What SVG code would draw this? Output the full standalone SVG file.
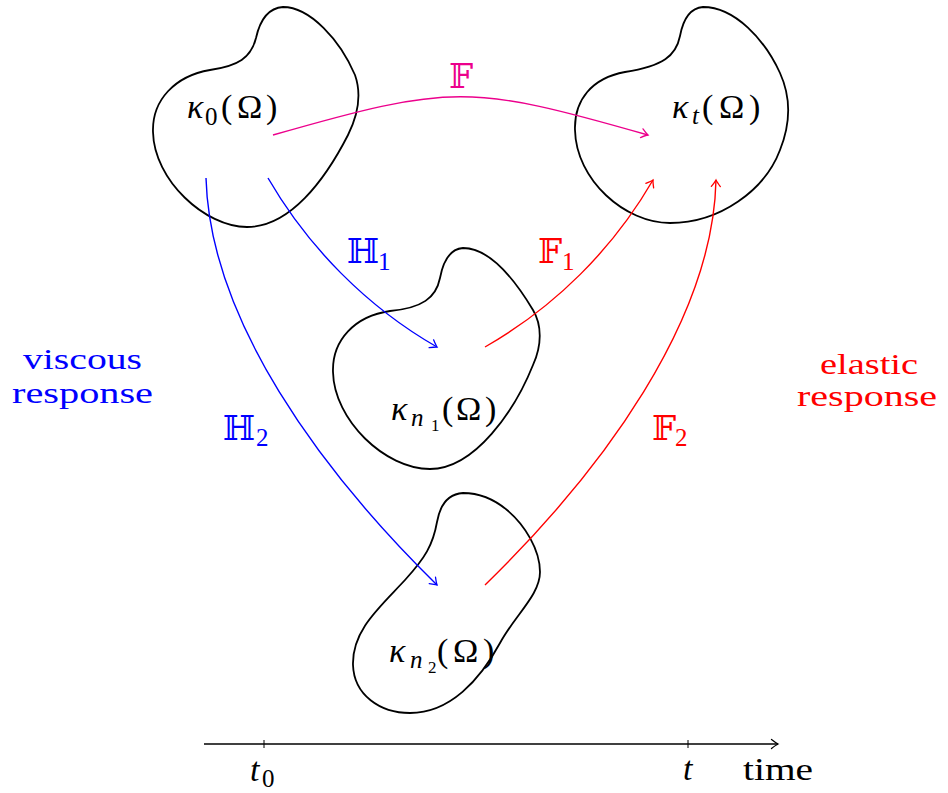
<svg xmlns="http://www.w3.org/2000/svg" width="948" height="793" viewBox="0 0 948 793">
<defs>
<style>
.blob{fill:none;stroke:#000;stroke-width:1.8;stroke-linejoin:round}
.m{font-family:"Liberation Serif","DejaVu Serif",serif;font-size:34px;fill:#000}
.i{font-style:italic}
.bb{font-family:"DejaVu Serif","DejaVu Sans",serif;font-size:34px}
.sub{font-family:"Liberation Serif",serif;font-size:25px}
.ss{font-family:"Liberation Serif",serif;font-size:17px}
.w{font-family:"Liberation Serif",serif;font-size:30px}
.c{fill:none;stroke-width:1.4}
</style>
<marker id="ab" markerUnits="userSpaceOnUse" markerWidth="12" markerHeight="12" refX="0" refY="0" viewBox="-8 -6 10 12" orient="auto"><path d="M-6.5,-4.5 Q-2,-1 0,0 Q-2,1 -6.5,4.5" fill="none" stroke="#0000ff" stroke-width="1.3" stroke-linecap="round"/></marker>
<marker id="ar" markerUnits="userSpaceOnUse" markerWidth="12" markerHeight="12" refX="0" refY="0" viewBox="-8 -6 10 12" orient="auto"><path d="M-6.5,-4.5 Q-2,-1 0,0 Q-2,1 -6.5,4.5" fill="none" stroke="#ff0000" stroke-width="1.3" stroke-linecap="round"/></marker>
<marker id="am" markerUnits="userSpaceOnUse" markerWidth="12" markerHeight="12" refX="0" refY="0" viewBox="-8 -6 10 12" orient="auto"><path d="M-6.5,-4.5 Q-2,-1 0,0 Q-2,1 -6.5,4.5" fill="none" stroke="#ec008c" stroke-width="1.3" stroke-linecap="round"/></marker>
<marker id="ak" markerUnits="userSpaceOnUse" markerWidth="12" markerHeight="12" refX="0" refY="0" viewBox="-8 -6 10 12" orient="auto"><path d="M-6.5,-4.5 Q-2,-1 0,0 Q-2,1 -6.5,4.5" fill="none" stroke="#000" stroke-width="1.3" stroke-linecap="round"/></marker>
</defs>
<rect width="948" height="793" fill="#fff"/>

<g id="kappa0">
<path class="blob" d="M283,7 C268,8 260,20 256,38 C251,58 238,66 210,70 C175,76 152,100 153,132 C154,180 205,227 247,227 C290,227 325,180 348,135 C358,115 362,95 355,75 C340,40 310,7 283,7 Z"/>
<text class="m" y="118"><tspan x="187" class="i">κ</tspan><tspan x="205" y="125" class="sub">0</tspan><tspan x="221" y="118">(</tspan><tspan x="237">Ω</tspan><tspan x="266">)</tspan></text>
</g>

<g id="kappat">
<path class="blob" d="M703,7 C690,8 683,20 680,36 C676,56 663,66 625,72 C592,78 574,100 575,130 C576,180 625,223 670,223 C720,223 765,190 780,150 C792,120 790,95 780,73 C765,40 735,7 703,7 Z"/>
<text class="m" y="118"><tspan x="672" class="i">κ</tspan><tspan x="692" y="124" class="sub i">t</tspan><tspan x="702" y="118">(</tspan><tspan x="719">Ω</tspan><tspan x="749">)</tspan></text>
</g>

<g id="kappan1">
<path class="blob" d="M463,248 C450,249 443,262 440,278 C436,298 422,308 390,311 C355,316 332,340 333,372 C334,420 385,469 430,469 C475,469 515,410 533,365 C542,345 542,325 533,310 C515,280 490,248 463,248 Z"/>
<text class="m" y="420"><tspan x="391" class="i">κ</tspan><tspan x="411" y="426" class="sub i">n</tspan><tspan x="431" y="431" class="ss">1</tspan><tspan x="442" y="420">(</tspan><tspan x="456">Ω</tspan><tspan x="485">)</tspan></text>
</g>

<g id="kappan2">
<path class="blob" d="M463,493 C448,494 440,505 437,522 C433,545 425,558 405,580 C380,607 352,630 353,665 C354,695 380,713 410,713 C450,713 480,680 500,643 C515,615 540,595 540,572 C540,550 525,525 507,510 C495,500 480,493 463,493 Z"/>
<text class="m" y="662"><tspan x="389" class="i">κ</tspan><tspan x="410" y="668" class="sub i">n</tspan><tspan x="428" y="673" class="ss">2</tspan><tspan x="437" y="662">(</tspan><tspan x="453">Ω</tspan><tspan x="483">)</tspan></text>
</g>

<g id="connectors">
<path class="c" stroke="#ec008c" d="M273,135 C451,84 470,84 648,135" marker-end="url(#am)"/>
<path class="c" stroke="#0000ff" d="M268,178 C308,247 367,307 437,347" marker-end="url(#ab)"/>
<path class="c" stroke="#0000ff" d="M206,178 C210,320 320,470 437,585" marker-end="url(#ab)"/>
<path class="c" stroke="#ff0000" d="M485,347 C555,307 613,249 653,180" marker-end="url(#ar)"/>
<path class="c" stroke="#ff0000" d="M485,585 C603,470 713,320 716,180" marker-end="url(#ar)"/>
</g>

<g id="labels">
<text class="bb" x="449" y="88" fill="#ec008c">𝔽</text>
<text fill="#0000ff"><tspan class="bb" x="347" y="263">ℍ</tspan><tspan class="sub" x="378" y="270">1</tspan></text>
<text fill="#ff0000"><tspan class="bb" x="538" y="263">𝔽</tspan><tspan class="sub" x="562" y="270">1</tspan></text>
<text fill="#0000ff"><tspan class="bb" x="223" y="440">ℍ</tspan><tspan class="sub" x="256" y="446">2</tspan></text>
<text fill="#ff0000"><tspan class="bb" x="652" y="440">𝔽</tspan><tspan class="sub" x="675" y="446">2</tspan></text>
</g>

<g id="viscous" fill="#0000ff">
<text class="w" x="23" y="369" textLength="119" lengthAdjust="spacingAndGlyphs">viscous</text>
<text class="w" x="12" y="403" textLength="141" lengthAdjust="spacingAndGlyphs">response</text>
</g>
<g id="elastic" fill="#ff0000">
<text class="w" x="820" y="374" textLength="98" lengthAdjust="spacingAndGlyphs">elastic</text>
<text class="w" x="797" y="406" textLength="140" lengthAdjust="spacingAndGlyphs">response</text>
</g>

<g id="timeaxis">
<path d="M204,744 H778" stroke="#000" stroke-width="1.4" fill="none" marker-end="url(#ak)"/>
<path d="M264,740 V748 M688,740 V748" stroke="#000" stroke-width="1"/>
<text class="m"><tspan x="250" y="781" class="i">t</tspan><tspan x="262" y="787" class="sub">0</tspan></text>
<text class="m i" x="683" y="780">t</text>
<text class="w" x="743" y="780" textLength="70" lengthAdjust="spacingAndGlyphs" style="font-size:32px">time</text>
</g>
</svg>
